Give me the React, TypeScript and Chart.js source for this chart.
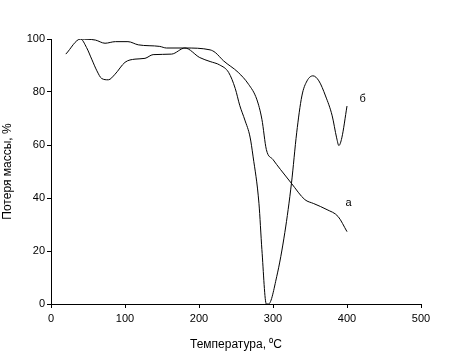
import React, { useEffect, useRef } from "react";
import { Chart, registerables } from "chart.js";

Chart.register(...registerables);

// Curve "а"
const aTemps = [40, 60, 73, 87, 104, 118, 147, 156, 181, 215, 222, 233, 253, 267, 278, 285, 291, 300, 310, 325, 343, 355, 373, 388, 400];
const aValues = [100, 99.6, 98.4, 99, 99, 97.8, 97.2, 96.6, 96.6, 95.9, 94.9, 91.8, 87.4, 82.9, 77.3, 69.7, 58.3, 54.5, 50.8, 45.5, 39.4, 37.9, 35.6, 33, 27.3];

// Curve "б"
const bTemps = [20, 40, 48, 55, 62, 68.5, 77.5, 86.5, 100, 113.5, 127, 138, 163, 181, 201, 215, 228, 240, 249, 255, 262, 269, 273, 281, 285, 291, 294, 305, 316, 325, 332, 339, 346, 354, 362, 371, 380, 386, 389, 393, 400];
const bValues = [94.3, 100, 96.8, 92.4, 88, 85.1, 84.6, 86.7, 91.2, 92.4, 92.7, 94.1, 94.3, 96.6, 93, 91.5, 90.2, 87.4, 81.3, 75, 69.4, 63, 55.8, 38, 20.5, 0, 0, 10.3, 27, 45.7, 64.6, 78.5, 84.2, 86.1, 84.2, 78.5, 71, 62.7, 59.8, 62.7, 74.7];

const seriesLabels = ["а", "б"];
const xTitle = "Температура, ⁰C";
const yTitle = "Потеря массы, %";

const FONT = "'Liberation Sans', Arial, sans-serif";

export default function App() {
  const ref = useRef<HTMLCanvasElement | null>(null);

  useEffect(() => {
    if (!ref.current) return;
    const toPts = (xs: number[], ys: number[]) => xs.map((x, i) => ({ x, y: ys[i] }));

    const labelPlugin = {
      id: "curveLabels",
      afterDatasetsDraw(chart: any) {
        const { ctx, scales } = chart;
        const xs = scales.x;
        const ys = scales.y;
        ctx.save();
        ctx.fillStyle = "#000";
        ctx.font = `11px ${FONT}`;
        ctx.textAlign = "center";
        ctx.textBaseline = "middle";
        ctx.fillText(seriesLabels[0], xs.getPixelForValue(402), ys.getPixelForValue(38));
        ctx.fillText(seriesLabels[1], xs.getPixelForValue(421), ys.getPixelForValue(77.3));
        ctx.restore();
      },
    };

    const chart = new Chart(ref.current, {
      type: "line",
      data: {
        datasets: [
          {
            label: seriesLabels[0],
            data: toPts(aTemps, aValues),
            borderColor: "#000",
            borderWidth: 1,
            pointRadius: 0,
            cubicInterpolationMode: "monotone",
            fill: false,
          },
          {
            label: seriesLabels[1],
            data: toPts(bTemps, bValues),
            borderColor: "#000",
            borderWidth: 1,
            pointRadius: 0,
            cubicInterpolationMode: "monotone",
            fill: false,
          },
        ],
      },
      options: {
        animation: false,
        responsive: false,
        maintainAspectRatio: false,
        layout: { padding: { top: 39, right: 35, left: 0, bottom: 0 } },
        plugins: {
          legend: { display: false },
          tooltip: { enabled: false },
        },
        scales: {
          x: {
            type: "linear",
            min: 0,
            max: 500,
            afterFit: (s: any) => {
              s.height = 48;
            },
            ticks: {
              stepSize: 100,
              color: "#000",
              font: { family: FONT, size: 11 },
              padding: 4,
              maxRotation: 0,
            },
            grid: {
              drawOnChartArea: false,
              drawTicks: true,
              tickLength: 4,
              color: "#000",
            },
            border: { display: true, color: "#000", width: 1 },
            title: {
              display: true,
              text: xTitle,
              color: "#000",
              font: { family: FONT, size: 12 },
              padding: { top: 3, bottom: 0 },
            },
          },
          y: {
            min: 0,
            max: 100,
            afterFit: (s: any) => {
              s.width = 51;
            },
            ticks: {
              stepSize: 20,
              color: "#000",
              font: { family: FONT, size: 11 },
              padding: 2,
            },
            grid: {
              drawOnChartArea: false,
              drawTicks: true,
              tickLength: 4,
              color: "#000",
            },
            border: { display: true, color: "#000", width: 1 },
            title: {
              display: true,
              text: yTitle,
              color: "#000",
              font: { family: FONT, size: 12 },
              padding: { top: 0, bottom: 4 },
            },
          },
        },
      },
      plugins: [labelPlugin],
    });
    return () => chart.destroy();
  }, []);

  return (
    <div style={{ position: "absolute", left: 0, top: 0, width: 456, height: 352, background: "#fff" }}>
      <canvas ref={ref} width={456} height={352} style={{ width: 456, height: 352, display: "block" }} />
    </div>
  );
}
